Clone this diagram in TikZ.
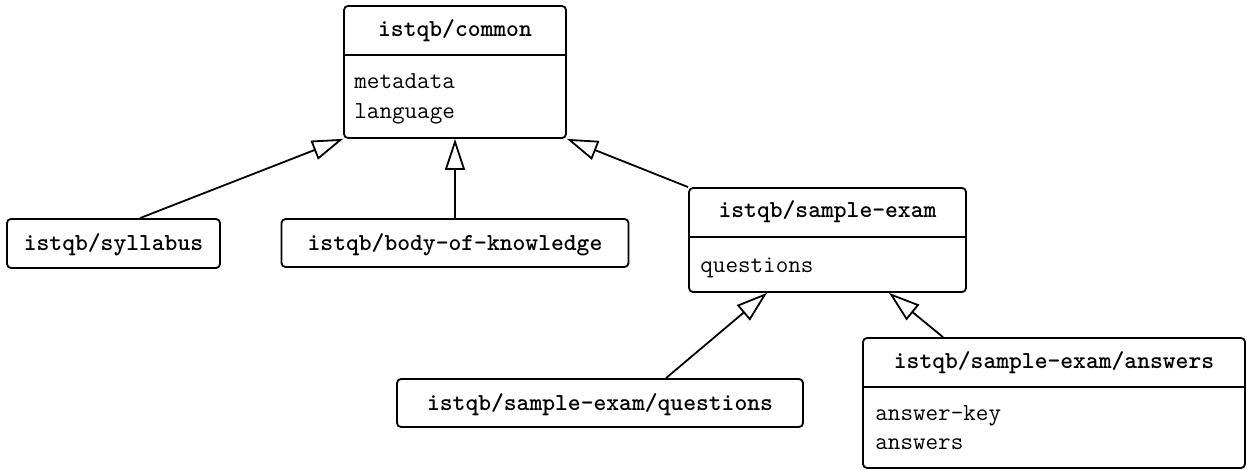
\documentclass[tikz,border=0pt]{standalone}
\usetikzlibrary{arrows.meta,calc}
\begin{document}
\begin{tikzpicture}[x=0.5pt,y=-0.5pt,
  every node/.style={font=\ttfamily\fontsize{12.2}{14}\selectfont},
  box/.style={draw, line width=0.9pt, rounded corners=2pt, inner sep=0pt},
  title/.style={font=\ttfamily\bfseries\fontsize{12.2}{14}\selectfont, anchor=base, inner sep=0pt},
  attr/.style={anchor=base west, inner sep=0pt},
  single/.style={box, font=\ttfamily\bfseries\fontsize{12.2}{14}\selectfont, text height=9.5pt, text depth=2pt},
  divider/.style={line width=0.9pt},
  inherit/.style={line width=0.9pt, -{Triangle[open, length=15.5pt, width=10pt, fill=white]}}
]
\useasboundingbox (0,0) rectangle (1247,470);

% istqb/common
\node[box, minimum width=111pt, minimum height=66pt] (common) at (455,72) {};
\node[title] (commonT) at (455,37) {istqb/common};
\coordinate (commonDL) at (344,55);
\coordinate (commonDR) at (566,55);
\draw[divider] (commonDL) -- (commonDR);
\node[attr] (commonA1) at (354,89) {metadata};
\node[attr] (commonA2) at (354,119) {language};

% istqb/syllabus
\node[single, minimum width=106.5pt, minimum height=24.5pt] (syll) at (113.5,243.5) {istqb/syllabus};

% istqb/body-of-knowledge
\node[single, minimum width=173.5pt, minimum height=24pt] (body) at (455,243) {istqb/body-of-knowledge};

% istqb/sample-exam
\node[box, minimum width=138.5pt, minimum height=52pt] (se) at (827.5,240) {};
\node[title] (seT) at (827.5,218) {istqb/sample-exam};
\coordinate (seDL) at (689,237);
\coordinate (seDR) at (966,237);
\draw[divider] (seDL) -- (seDR);
\node[attr] (seA1) at (700,272) {questions};

% istqb/sample-exam/questions
\node[single, minimum width=203pt, minimum height=24pt] (q) at (600,403) {istqb/sample-exam/questions};

% istqb/sample-exam/answers
\node[box, minimum width=191pt, minimum height=65pt] (ans) at (1054,403) {};
\node[title] (ansT) at (1054,368) {istqb/sample-exam/answers};
\coordinate (ansDL) at (863,387);
\coordinate (ansDR) at (1245,387);
\draw[divider] (ansDL) -- (ansDR);
\node[attr] (ansA1) at (875,420) {answer-key};
\node[attr] (ansA2) at (875,449) {answers};

% generalisations
\draw[inherit] ([xshift=13.25pt]syll.north) -- (common.south west);
\draw[inherit] (body.north) -- (body.north |- common.south);
\draw[inherit] (se.north west) -- (common.south east);
\draw[inherit] ([xshift=33pt]q.north) -- ([xshift=-30.25pt]se.south);
\draw[inherit] ([xshift=-55.5pt]ans.north) -- ([xshift=30.75pt]se.south);
\end{tikzpicture}
\end{document}
